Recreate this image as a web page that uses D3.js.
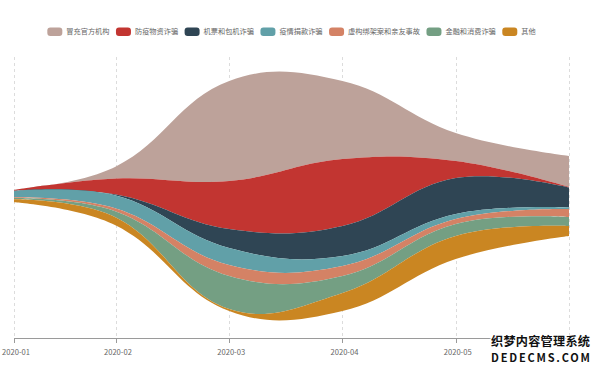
<!DOCTYPE html>
<html><head><meta charset="utf-8">
<script src="https://cdn.jsdelivr.net/npm/d3@7"></script>
<style>
body{margin:0;background:#fff}
svg{display:block}
text{font-family:"Noto Sans CJK SC","Noto Sans",sans-serif}
</style></head>
<body><svg id="c" width="600" height="369"></svg>
<script>
// ---- data ----
const monthLabels = ["2020-01","2020-02","2020-03","2020-04","2020-05","2020-06"];
const monthIndex  = [0.1, 1, 2, 3, 4, 5];
const seriesNames = ["冒充官方机构","防疫物资诈骗","机票和包机诈骗","疫情捐款诈骗","虚构绑架案和亲友事故","金融和消费诈骗","其他"];
const seriesColors = ["#bda29a","#c23531","#2f4554","#61a0a8","#d48265","#749f83","#ca8622"];
const impersonation = [0.3, 12, 100, 78, 28, 31];
const suppliesFraud = [0.8, 16, 48, 67, 17, 0.5];
const ticketFraud   = [0,   1,  19, 30, 36, 20];
const donationFraud = [6.5, 13, 17, 10,  5, 1.5];
const kidnapFraud   = [0.8, 3,  11, 10,  5, 8];
const financeFraud  = [1.2, 6,  33, 17, 12, 9];
const otherFraud    = [3,   8,   2, 18, 23, 10];
const seriesValues = [impersonation, suppliesFraud, ticketFraud, donationFraud, kidnapFraud, financeFraud, otherFraud];

// ---- layout ----
const left = 14, right = 569, axisY = 338, gridTop = 57;
const streamTop = 81, streamBottom = 311;

const svg = d3.select("#c");

const rows = monthIndex.map((m, i) => {
  const r = {t: m};
  seriesNames.forEach((n, k) => r[n] = seriesValues[k][i]);
  return r;
});

const stack = d3.stack().keys(seriesNames).order(d3.stackOrderNone).offset(d3.stackOffsetSilhouette);
const layers = stack(rows);

const x = d3.scaleLinear().domain([monthIndex[0], monthIndex[monthIndex.length-1]]).range([left, right]);
const maxSum = d3.max(rows, r => d3.sum(seriesNames, n => r[n]));
const y = d3.scaleLinear().domain([-maxSum/2, maxSum/2]).range([streamTop, streamBottom]);

// grid lines
svg.append("g").selectAll("line").data(monthIndex).join("line")
  .attr("x1", d => Math.round(x(d)) + 0.5).attr("x2", d => Math.round(x(d)) + 0.5)
  .attr("y1", gridTop).attr("y2", axisY)
  .attr("stroke", "#dcdcdc").attr("stroke-width", 1).attr("stroke-dasharray", "3,3");

// ECharts-like bezier smoothing
function ecSmooth(pts, smooth) {
  const n = pts.length, cps = [];
  for (let i = 0; i < n; i++) {
    const p = pts[i];
    if (i === 0 || i === n - 1) { cps.push(p.slice()); continue; }
    const a = pts[i-1], b = pts[i+1];
    const vx = (b[0]-a[0]) * smooth, vy = (b[1]-a[1]) * smooth;
    let d0 = Math.hypot(p[0]-a[0], p[1]-a[1]), d1 = Math.hypot(p[0]-b[0], p[1]-b[1]);
    const s = d0 + d1; if (s) { d0 /= s; d1 /= s; }
    cps.push([p[0] - vx*d0, p[1] - vy*d0]);
    cps.push([p[0] + vx*d1, p[1] + vy*d1]);
  }
  return cps;
}
function addCurve(path, pts, first) {
  const cps = ecSmooth(pts, 0.4);
  if (first) path.moveTo(pts[0][0], pts[0][1]); else path.lineTo(pts[0][0], pts[0][1]);
  for (let i = 0; i < pts.length - 1; i++) {
    path.bezierCurveTo(cps[2*i][0], cps[2*i][1], cps[2*i+1][0], cps[2*i+1][1], pts[i+1][0], pts[i+1][1]);
  }
}
function layerPath(layer) {
  const top = layer.map(d => [x(d.data.t), y(d[0])]);
  const bot = layer.map(d => [x(d.data.t), y(d[1])]).reverse();
  const p = d3.path();
  addCurve(p, top, true);
  addCurve(p, bot, false);
  p.closePath();
  return p.toString();
}

svg.append("g").selectAll("path").data(layers).join("path")
  .attr("d", layerPath)
  .attr("fill", (d, i) => seriesColors[i]);

// axis
const axisG = svg.append("g").attr("transform", `translate(0,${axisY})`);
axisG.append("line").attr("x1", left).attr("x2", right).attr("y1", 0.5).attr("y2", 0.5)
  .attr("stroke", "#9a9a9a").attr("stroke-width", 1);
axisG.selectAll("line.tick").data(monthIndex).join("line").attr("class", "tick")
  .attr("x1", d => Math.round(x(d)) + 0.5).attr("x2", d => Math.round(x(d)) + 0.5)
  .attr("y1", 0.5).attr("y2", 5).attr("stroke", "#9a9a9a");
// last label (2020-06) is covered by the watermark in the reference
axisG.selectAll("text").data(monthIndex.slice(0, -1)).join("text")
  .attr("x", d => x(d) + 2).attr("y", 17)
  .attr("text-anchor", "middle").attr("font-size", 7.6).attr("fill", "#666")
  .text((d, i) => monthLabels[i]);

// legend
const legend = svg.append("g");
let lx = 0;
const gap = 6.5;
seriesNames.forEach((n, i) => {
  const g = legend.append("g").attr("transform", `translate(${lx},0)`);
  g.append("rect").attr("x", 0).attr("y", -4).attr("width", 15).attr("height", 8.5).attr("rx", 3)
    .attr("fill", seriesColors[i]);
  const t = g.append("text").attr("x", 19).attr("y", 2.8).attr("font-size", 7.2).attr("fill", "#666").text(n);
  lx += 19 + t.node().getComputedTextLength() + gap;
});
lx -= gap;
legend.attr("transform", `translate(${291.5 - lx/2},31.5)`);

// watermark
const wm = svg.append("g").attr("font-weight", "bold").attr("fill", "#111")
  .attr("stroke", "#fff").attr("stroke-width", 2).attr("paint-order", "stroke");
wm.append("text").attr("x", 491).attr("y", 346).attr("font-size", 12.2).attr("textLength", 99).text("织梦内容管理系统");
wm.append("text").attr("x", 491).attr("y", 362).attr("font-size", 11).attr("font-family", "DejaVu Sans Mono, monospace")
  .attr("textLength", 99).attr("lengthAdjust", "spacing").text("DEDECMS.COM");
</script>
</body></html>
